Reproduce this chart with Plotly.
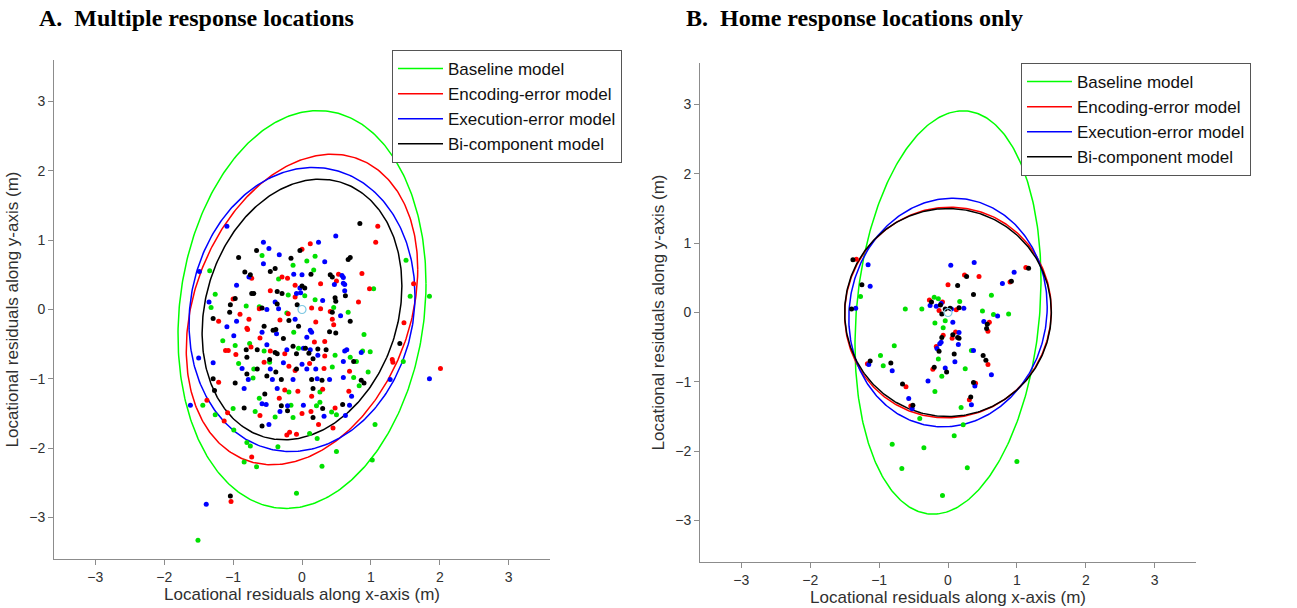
import numpy as np
import plotly.graph_objects as go

# ---- model names and colours ----
model_names = ["Baseline model", "Encoding-error model", "Execution-error model", "Bi-component model"]
line_colors = ["#00ff00", "#ff0000", "#0000ff", "#000000"]
dot_colors = ["#00e000", "#ff0000", "#0000ff", "#000000"]

# ---- ellipse parameters (sx, sy, correlation) ----
left_sx = [1.80, 1.68, 1.64, 1.45]
left_sy = [2.87, 2.24, 2.05, 1.88]
left_rho = [0.13, 0.26, 0.10, 0.18]

right_sx = [1.35, 1.50, 1.44, 1.50]
right_sy = [2.91, 1.52, 1.65, 1.50]
right_rho = [0.16, 0.02, 0.05, 0.0]

# ---- panel A residuals ----
left_green_x = [-0.58, 0.07, 0.19, -0.13, 0.17, -1.34, -0.34, 1.04, 1.51, 1.57, 1.85, -1.26, -0.20, 0.04, 0.19,
                0.46, -1.32, -0.81, -0.62, -0.22, 0.67, -0.12, 0.90, -1.15, -0.97, -0.76, -0.05, -0.55, 0.88, 0.99,
                0.48, 0.70, 0.79, 1.47, -0.47, -0.92, -0.70, 0.44, 0.96, -0.71, 0.75, -0.62, -0.19, 0.26, 0.83,
                -1.44, -1.26, -1.00, -0.68, -0.39, -0.16, -0.13, 0.21, 0.26, 0.43, 0.50, 0.11, 0.22, -0.99, -0.80,
                -0.75, -0.35, -0.84, -0.66, 0.50, 0.29, 1.06, 1.02, -0.08, -1.51]
left_green_y = [0.78, 0.70, 0.77, 0.64, 0.57, 0.56, 0.44, 0.30, 0.71, 0.19, 0.19, 0.22, 0.21, 0.20, 0.14,
                0.03, 0.03, 0.05, 0.04, -0.05, -0.04, -0.33, -0.36, -0.45, -0.52, -0.49, -0.56, -0.60, -0.60, -0.61,
                -0.66, -0.69, -0.75, -0.75, -0.76, -0.78, -0.86, -0.83, -0.90, -0.99, -0.98, -1.28, -1.19, -1.19, -1.10,
                -1.38, -1.52, -1.43, -1.47, -1.55, -1.38, -1.56, -1.39, -1.34, -1.48, -1.52, -1.79, -1.86, -1.74, -1.92,
                -1.97, -1.98, -2.20, -2.27, -2.05, -2.26, -1.66, -2.17, -2.65, -3.33]

left_red_x = [1.10, 1.07, 0.12, 0.00, 0.87, -0.73, -0.21, -0.29, 0.53, 0.50, 0.27, -0.10, 0.98, 1.62, -0.46,
              -0.10, 0.82, -1.00, -0.90, -0.62, -0.20, 0.14, 0.27, 0.41, 0.46, 0.44, 0.20, -1.21, -0.77, -0.32,
              -0.80, -0.79, -0.61, 0.33, -0.74, 0.18, 1.48, -1.11, -1.07, -0.46, -0.25, -0.96, 0.33, 1.31, 1.32,
              -0.55, 0.11, -0.19, -0.10, 0.32, 0.69, 2.01, -1.21, -0.33, -0.25, -0.06, 0.30, 0.14, 0.68, -1.38,
              -1.08, -0.61, 0.00, 0.13, 0.24, 0.48, 0.45, -0.18, -0.22, -0.08, -1.13, -0.73, -1.03]
left_red_y = [1.20, 0.97, 0.95, 0.87, 0.52, 0.45, 0.45, 0.47, 0.51, 0.41, 0.37, 0.35, 0.30, 0.37, 0.27,
              0.18, 0.11, 0.15, -0.07, 0.01, -0.06, 0.02, 0.01, -0.03, -0.22, -0.14, -0.18, -0.17, -0.14, -0.15,
              -0.27, -0.29, -0.41, -0.46, -0.54, -0.47, -0.19, -0.59, -0.59, -0.60, -0.64, -0.65, -0.67, -0.72, -0.76,
              -0.76, -0.78, -0.82, -0.88, -0.85, -0.89, -0.85, -1.05, -1.28, -1.16, -1.18, -1.15, -1.25, -1.18, -1.31,
              -1.49, -1.53, -1.50, -1.47, -1.66, -1.42, -1.71, -1.77, -1.81, -1.80, -1.61, -2.13, -2.77]

left_blue_x = [-1.09, 0.49, -0.56, 0.24, -0.48, -0.33, 0.33, -0.56, -1.49, -0.12, -0.77, 0.00, 0.58, 0.60, 0.60,
               0.62, 0.47, -0.03, -0.95, -0.08, -0.02, 0.30, 0.62, -1.35, -0.51, -0.39, -0.34, 0.56, -0.95, -0.10,
               -1.09, -0.37, -0.58, 0.12, 0.14, -0.99, 0.07, -0.51, 0.02, 0.12, -0.22, 0.65, 0.62, 0.86, 0.23,
               0.60, -0.27, -1.29, 0.00, -1.50, -0.87, -0.46, 0.07, 0.20, 1.28, 1.85, -0.78, -0.43, -0.13, 0.22,
               0.60, 0.40, -1.62, -0.84, -0.36, 0.72, -0.58, -0.52, -0.48, -0.32, -0.21, 0.02, 0.32, 0.69, 0.63,
               -1.39]
left_blue_y = [1.20, 1.06, 0.97, 0.97, 0.88, 0.79, 0.69, 0.66, 0.55, 0.51, 0.47, 0.50, 0.49, 0.46, 0.38,
               0.36, 0.36, 0.31, 0.35, 0.23, 0.24, 0.13, 0.27, 0.11, 0.00, 0.11, 0.01, -0.09, -0.17, -0.14,
               -0.25, -0.35, -0.33, -0.30, -0.33, -0.38, -0.40, -0.51, -0.56, -0.58, -0.58, -0.58, -0.60, -0.62, -0.66,
               -0.75, -0.77, -0.77, -0.79, -0.70, -0.85, -0.86, -0.86, -0.86, -1.01, -1.00, -1.01, -1.01, -1.01, -1.00,
               -0.98, -1.01, -1.38, -1.14, -1.14, -1.25, -1.36, -1.37, -1.66, -1.47, -1.39, -1.38, -1.54, -1.38, -1.53,
               -2.81]

left_black_x = [0.84, -0.66, -0.03, -0.92, -0.16, 0.70, 0.67, -0.39, -0.46, 0.13, -0.83, -0.75, 0.41, 0.44, 0.00,
                0.04, -0.36, -0.73, -0.70, -0.29, 0.48, 0.49, 0.63, -0.97, -1.04, -1.05, -0.58, -0.36, -0.07, 0.44,
                0.70, -1.29, -0.19, -0.05, -0.55, -0.42, -0.38, 0.40, 0.49, -0.27, 1.42, -0.13, 0.05, 0.23, 0.35,
                -0.81, -0.65, -0.39, -0.36, -0.08, 0.10, -0.80, 0.16, 0.75, -0.47, -0.65, -0.08, -0.80, -0.38, -1.29,
                -0.97, -0.30, -0.51, 0.14, 0.86, 0.29, -1.27, -0.54, -0.84, -0.58, -0.30, -0.21, 0.16, 0.30, 0.16,
                0.59, 0.90, -1.04]
left_black_y = [1.24, 0.85, 0.85, 0.75, 0.74, 0.75, 0.72, 0.59, 0.55, 0.51, 0.54, 0.50, 0.50, 0.47, 0.34,
                0.31, 0.26, 0.23, 0.23, 0.23, 0.17, 0.12, 0.20, 0.16, 0.07, -0.04, 0.02, 0.08, 0.07, -0.04,
                -0.17, -0.13, -0.16, -0.24, -0.24, -0.30, -0.29, -0.32, -0.34, -0.42, -0.49, -0.53, -0.56, -0.57, -0.58,
                -0.58, -0.58, -0.62, -0.64, -0.64, -0.63, -0.69, -0.71, -0.75, -0.72, -0.86, -0.86, -0.93, -0.90, -1.00,
                -1.06, -1.01, -0.96, -1.01, -1.02, -1.02, -1.17, -1.22, -1.42, -1.68, -1.39, -1.46, -1.14, -1.43, -1.56,
                -1.37, -1.06, -2.69]

# ---- panel B residuals ----
right_green_x = [0.63, -1.27, -0.20, -0.14, 0.17, -0.62, -0.38, 0.50, 0.66, 0.88, -0.04, -0.19, -0.07, -0.78, 0.34,
                 -0.98, -0.14, -0.94, 0.25, -0.09, -0.19, 0.19, -0.41, 0.22, 0.09, -0.81, -0.35, -0.67, 0.28, 1.00,
                 -0.08]
right_green_y = [0.25, 0.23, 0.22, 0.20, 0.16, 0.05, 0.05, 0.02, -0.03, -0.02, -0.12, -0.15, -0.22, -0.48, -0.55,
                 -0.62, -0.67, -0.77, -0.81, -0.92, -1.14, -1.37, -1.53, -1.62, -1.78, -1.90, -1.95, -2.25, -2.24, -2.15,
                 -2.64]

right_red_x = [-1.33, 1.13, 0.24, 0.45, 0.90, 0.00, -0.27, -0.08, 0.12, -0.13, 0.60, 0.58, 0.11, 0.06, -0.07,
               -0.17, 0.58, -0.22, 0.40, -0.61, 0.31, -0.54, -1.17]
right_red_y = [0.77, 0.65, 0.54, 0.52, 0.44, 0.40, 0.18, 0.15, 0.04, 0.03, -0.14, -0.27, -0.28, -0.37, -0.33,
               -0.49, -0.75, -0.82, -1.02, -1.07, -1.26, -1.35, -0.74]

right_blue_x = [-1.16, 0.04, 0.38, 0.96, 0.79, -1.13, -0.10, -0.26, -0.17, 0.23, 0.05, -1.34, 0.72, 0.07, 0.52,
                0.16, -0.10, -0.12, 0.15, -0.16, 0.37, 0.10, -1.15, -0.81, -0.04, 0.63, -0.29, 0.39, -0.57, -0.52,
                0.34]
right_blue_y = [0.69, 0.68, 0.72, 0.58, 0.42, 0.38, 0.13, 0.10, 0.09, 0.06, 0.05, 0.06, -0.05, -0.14, -0.13,
                -0.29, -0.43, -0.45, -0.46, -0.52, -0.55, -0.71, -0.75, -0.84, -0.80, -0.90, -0.99, -1.06, -1.24, -1.39,
                -1.33]

right_black_x = [-1.38, 1.17, 0.27, 0.92, -1.25, 0.14, 0.37, -0.24, -0.11, 0.16, 0.03, -0.04, -0.09, -1.40, 0.57,
                 0.56, 0.07, 0.14, 0.16, -0.09, -0.13, 0.51, 0.09, 0.55, -1.13, -0.83, -0.20, -0.02, 0.37, -0.66,
                 0.33, -0.51]
right_black_y = [0.76, 0.64, 0.52, 0.45, 0.40, 0.39, 0.26, 0.15, 0.11, 0.07, 0.06, 0.05, -0.02, 0.05, -0.17,
                 -0.23, -0.32, -0.36, -0.37, -0.36, -0.56, -0.62, -0.60, -0.69, -0.70, -0.73, -0.79, -0.86, -1.01, -1.03,
                 -1.22, -1.34]

left_dots = [(left_green_x, left_green_y), (left_red_x, left_red_y),
             (left_blue_x, left_blue_y), (left_black_x, left_black_y)]
right_dots = [(right_green_x, right_green_y), (right_red_x, right_red_y),
              (right_blue_x, right_blue_y), (right_black_x, right_black_y)]

ticks = [-3, -2, -1, 0, 1, 2, 3]
axis_range = [-3.6, 3.6]

W, H = 1297, 608
FONT = "Liberation Sans, Arial, sans-serif"
AXIS_GREY = "#8c8c8c"
TEXT_GREY = "#303030"


def ellipse(sx, sy, rho, n=361):
    t = np.linspace(0, 2 * np.pi, n)
    x = sx * np.cos(t)
    y = sy * (rho * np.cos(t) + np.sqrt(1 - rho ** 2) * np.sin(t))
    return x, y


fig = go.Figure()

panels = [
    dict(xa="x", ya="y", legend="legend", sx=left_sx, sy=left_sy, rho=left_rho, dots=left_dots),
    dict(xa="x2", ya="y2", legend="legend2", sx=right_sx, sy=right_sy, rho=right_rho, dots=right_dots),
]

for p in panels:
    for i, name in enumerate(model_names):
        ex, ey = ellipse(p["sx"][i], p["sy"][i], p["rho"][i])
        fig.add_trace(go.Scatter(
            x=ex, y=ey, mode="lines", name=name,
            line=dict(color=line_colors[i], width=1.5),
            xaxis=p["xa"], yaxis=p["ya"], legend=p["legend"],
            hoverinfo="skip",
        ))
    for i, (dx, dy) in enumerate(p["dots"]):
        fig.add_trace(go.Scatter(
            x=dx, y=dy, mode="markers", showlegend=False,
            marker=dict(color=dot_colors[i], size=5, line=dict(width=0)),
            xaxis=p["xa"], yaxis=p["ya"],
        ))
    # centre marker at the origin
    fig.add_trace(go.Scatter(
        x=[0], y=[0], mode="markers", showlegend=False,
        marker=dict(symbol="circle-open", color="#7ec8e3", size=8, line=dict(width=1.2)),
        xaxis=p["xa"], yaxis=p["ya"],
    ))


def px_x(v):
    return v / W


def px_y(v):
    return 1 - v / H


axis_common = dict(
    range=axis_range, tickvals=ticks, ticks="outside", ticklen=5, tickcolor=AXIS_GREY,
    showline=True, linecolor=AXIS_GREY, linewidth=1, showgrid=False, zeroline=False,
    tickfont=dict(family=FONT, size=14, color=TEXT_GREY), mirror=False,
)

legend_common = dict(
    xanchor="left", yanchor="top", bgcolor="white", bordercolor="#555555", borderwidth=1,
    font=dict(family=FONT, size=17, color="#111111"), tracegroupgap=0, itemwidth=45,
)

fig.update_layout(
    width=W, height=H,
    margin=dict(l=0, r=0, t=0, b=0),
    paper_bgcolor="white", plot_bgcolor="white",
    showlegend=True,
    xaxis=dict(domain=[px_x(54), px_x(550)], anchor="y",
               title=dict(text="Locational residuals along x-axis (m)", standoff=4,
                          font=dict(family=FONT, size=17, color=TEXT_GREY)), **axis_common),
    yaxis=dict(domain=[px_y(559), px_y(60)], anchor="x",
               title=dict(text="Locational residuals along y-axis (m)", standoff=6,
                          font=dict(family=FONT, size=17, color=TEXT_GREY)), **axis_common),
    xaxis2=dict(domain=[px_x(700), px_x(1196)], anchor="y2",
                title=dict(text="Locational residuals along x-axis (m)", standoff=4,
                           font=dict(family=FONT, size=17, color=TEXT_GREY)), **axis_common),
    yaxis2=dict(domain=[px_y(562), px_y(63)], anchor="x2",
                title=dict(text="Locational residuals along y-axis (m)", standoff=6,
                           font=dict(family=FONT, size=17, color=TEXT_GREY)), **axis_common),
    legend=dict(x=px_x(392), y=px_y(50), **legend_common),
    legend2=dict(x=px_x(1021), y=px_y(63), **legend_common),
    annotations=[
        dict(text="<b>A.\u00a0\u00a0Multiple response locations</b>", xref="paper", yref="paper",
             x=px_x(37), y=px_y(18), xanchor="left", yanchor="middle", showarrow=False,
             font=dict(family="Liberation Serif, Times New Roman, serif", size=24, color="black")),
        dict(text="<b>B.\u00a0\u00a0Home response locations only</b>", xref="paper", yref="paper",
             x=px_x(684), y=px_y(18), xanchor="left", yanchor="middle", showarrow=False,
             font=dict(family="Liberation Serif, Times New Roman, serif", size=24, color="black")),
    ],
)

fig.write_html("out.html")
